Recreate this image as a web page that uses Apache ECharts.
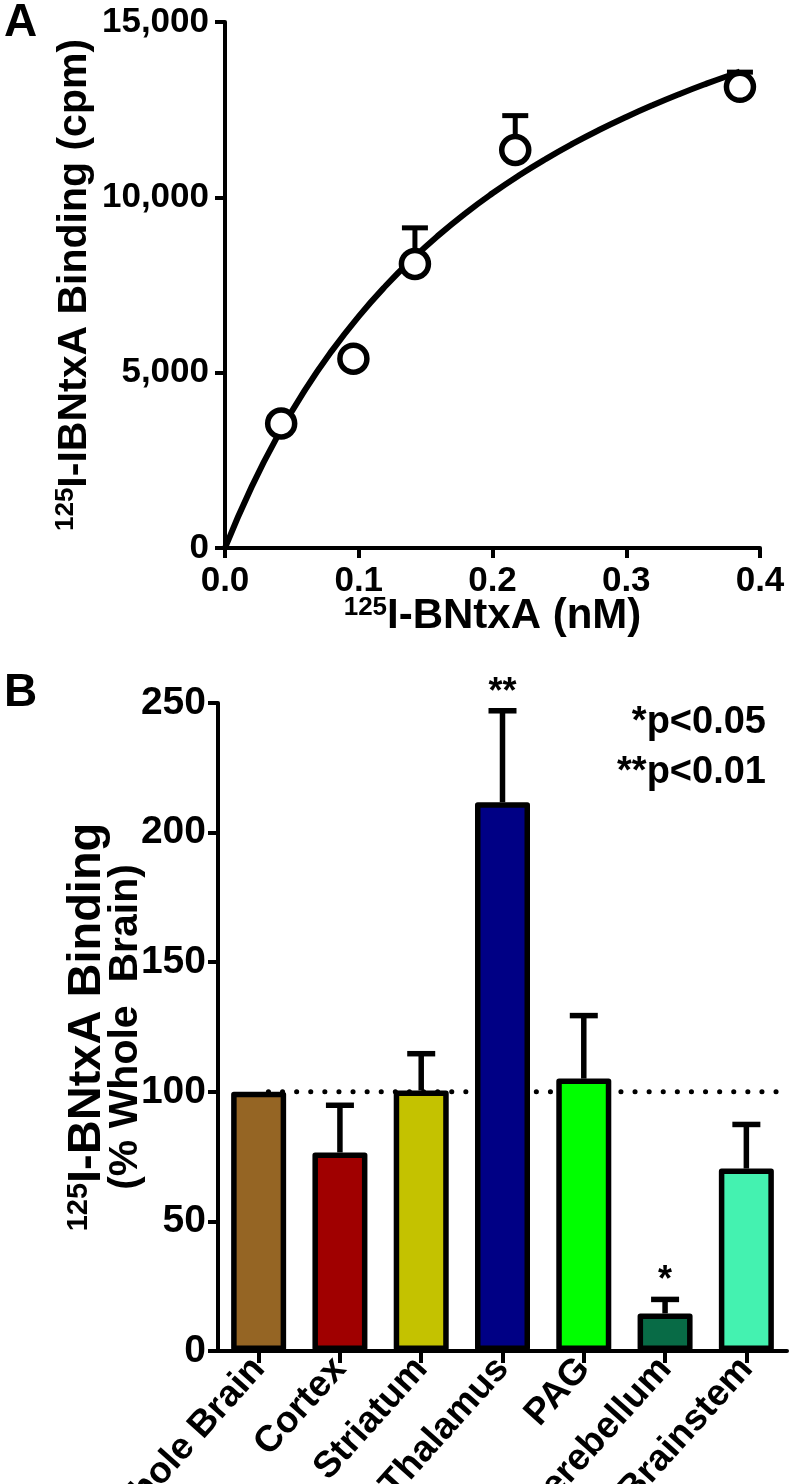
<!DOCTYPE html>
<html><head><meta charset="utf-8">
<script src="https://cdn.jsdelivr.net/npm/echarts@6/dist/echarts.min.js"></script>
<style>html,body{margin:0;padding:0;background:#fff}#c{width:797px;height:1484px}</style>
</head><body><div id="c"></div>
<script>
// ---- Panel A data ----
const concA = [0.042, 0.096, 0.142, 0.217, 0.385];
const bindA = [3550, 5400, 8100, 11350, 13150];
const errTopA = [3550, 5400, 9130, 12330, 13570];
const fitX = [0, 0.02, 0.04, 0.06, 0.08, 0.10, 0.12, 0.14, 0.16, 0.18, 0.20, 0.22, 0.24, 0.26, 0.28, 0.30, 0.32, 0.34, 0.36, 0.38, 0.385];
const fitY = [0, 1750, 3237, 4517, 5629, 6606, 7470, 8239, 8929, 9552, 10115, 10629, 11098, 11529, 11926, 12292, 12632, 12948, 13242, 13517, 13583];
const xTicksA = [0, 0.1, 0.2, 0.3, 0.4];
const yTicksA = [0, 5000, 10000, 15000];
// ---- Panel B data ----
const regions = ['Whole Brain', 'Cortex', 'Striatum', 'Thalamus', 'PAG', 'Cerebellum', 'Brainstem'];
const pctB = [100, 76.6, 100.5, 211.7, 105.1, 14.5, 70.4];
const errTopB = [100, 94.8, 114.7, 247, 129.4, 19.9, 87.4];
const sigB = ['', '', '', '**', '', '*', ''];
const colorsB = ['#956524', '#a00000', '#c4c200', '#000085', '#00ff00', '#086b46', '#44f2b0'];
const yTicksB = [0, 50, 100, 150, 200, 250];
const refX = [0.62, 7];
const refY = [100, 100];

const FF = '"Liberation Sans", Arial, Helvetica, sans-serif';
const chart = echarts.init(document.getElementById('c'), null, {renderer: 'canvas'});

function lab(size, extra) {
  return Object.assign({color: '#000', fontFamily: FF, fontWeight: 'bold', fontSize: size}, extra || {});
}
function axisBase() {
  return {
    axisLine: {show: true, onZero: false, lineStyle: {color: '#000', width: 4}},
    axisTick: {show: true, length: 10, lineStyle: {color: '#000', width: 4}},
    splitLine: {show: false},
    nameMoveOverlap: false
  };
}

const option = {
  backgroundColor: '#fff',
  animation: false,
  grid: [
    {left: 225, top: 22, width: 535, height: 526, outerBoundsMode: 'none', containLabel: false},
    {left: 218, top: 703, width: 569, height: 648, outerBoundsMode: 'none', containLabel: false}
  ],
  xAxis: [
    Object.assign(axisBase(), {
      gridIndex: 0, type: 'value', min: 0, max: 0.4, interval: 0.1,
      axisLabel: lab(35, {margin: 16, formatter: v => v.toFixed(1)}),
      name: '{sup|125}{m|I-BNtxA (nM)}', nameLocation: 'middle', nameGap: 47,
      nameTextStyle: {rich: {
        sup: lab(26, {verticalAlign: 'top', lineHeight: 42}),
        m: lab(42, {lineHeight: 42})
      }}
    }),
    Object.assign(axisBase(), {
      gridIndex: 1, type: 'category', data: regions, boundaryGap: true,
      axisTick: {show: true, length: 12, alignWithLabel: true, interval: 0, lineStyle: {color: '#000', width: 4}},
      axisLabel: lab(37, {rotate: 48, margin: 12, interval: 0})
    }),
    {gridIndex: 1, type: 'value', min: 0, max: 7, show: false}
  ],
  yAxis: [
    Object.assign(axisBase(), {
      gridIndex: 0, type: 'value', min: 0, max: 15000, interval: 5000,
      axisLabel: lab(35, {margin: 16, formatter: v => v.toLocaleString('en-US')}),
      name: '{sup|125}{m|I-IBNtxA Binding (cpm)}', nameLocation: 'middle', nameGap: 128, nameRotate: 90,
      nameTextStyle: {rich: {
        sup: lab(26, {verticalAlign: 'top', lineHeight: 44}),
        m: lab(41, {lineHeight: 44})
      }}
    }),
    Object.assign(axisBase(), {
      gridIndex: 1, type: 'value', min: 0, max: 250, interval: 50,
      axisLabel: lab(39, {margin: 12}),
      name: '{sup|125}{m|I-BNtxA Binding}\n{s|(% Whole  Brain)}', nameLocation: 'middle', nameGap: 76, nameRotate: 90,
      nameTextStyle: {rich: {
        sup: lab(29, {verticalAlign: 'top', lineHeight: 46}),
        m: lab(47, {lineHeight: 46}),
        s: lab(41, {lineHeight: 32})
      }}
    })
  ],
  graphic: [
    {type: 'text', left: 4, top: 0, style: {text: 'A', fontFamily: FF, fontWeight: 'bold', fontSize: 46, fill: '#000'}},
    {type: 'text', left: 4, top: 670, style: {text: 'B', fontFamily: FF, fontWeight: 'bold', fontSize: 46, fill: '#000'}},
    {type: 'text', right: 31, top: 704, style: {text: '*p<0.05', fontFamily: FF, fontWeight: 'bold', fontSize: 38, fill: '#000'}},
    {type: 'text', right: 31, top: 754, style: {text: '**p<0.01', fontFamily: FF, fontWeight: 'bold', fontSize: 38, fill: '#000'}}
  ],
  series: [
    {
      type: 'line', xAxisIndex: 0, yAxisIndex: 0, smooth: true, symbol: 'none', z: 2, silent: true,
      lineStyle: {color: '#000', width: 6},
      data: fitX.map((x, i) => [x, fitY[i]])
    },
    {
      type: 'custom', xAxisIndex: 0, yAxisIndex: 0, z: 3, silent: true,
      data: concA.map((x, i) => [x, bindA[i], errTopA[i]]),
      renderItem: function (params, api) {
        if (api.value(2) <= api.value(1)) return null;
        const p0 = api.coord([api.value(0), api.value(1)]);
        const p1 = api.coord([api.value(0), api.value(2)]);
        return {type: 'group', children: [
          {type: 'line', shape: {x1: p0[0], y1: p0[1], x2: p1[0], y2: p1[1]}, style: {stroke: '#000', lineWidth: 5}},
          {type: 'line', shape: {x1: p1[0] - 13, y1: p1[1], x2: p1[0] + 13, y2: p1[1]}, style: {stroke: '#000', lineWidth: 5}}
        ]};
      }
    },
    {
      type: 'scatter', xAxisIndex: 0, yAxisIndex: 0, z: 4, silent: true,
      symbol: 'circle', symbolSize: 27,
      itemStyle: {color: '#fff', borderColor: '#000', borderWidth: 5.5, opacity: 1},
      data: concA.map((x, i) => [x, bindA[i]])
    },
    {
      type: 'line', xAxisIndex: 2, yAxisIndex: 1, symbol: 'none', z: 1, silent: true,
      lineStyle: {color: '#000', width: 5, type: [0.1, 14], cap: 'round'},
      data: refX.map((x, i) => [x, refY[i]])
    },
    {
      type: 'custom', xAxisIndex: 1, yAxisIndex: 1, z: 2, silent: true,
      data: regions.map((r, i) => [i, pctB[i], errTopB[i]]),
      renderItem: function (params, api) {
        const i = params.dataIndex;
        const p0 = api.coord([api.value(0), api.value(1)]);
        const p1 = api.coord([api.value(0), api.value(2)]);
        const ch = [];
        if (api.value(2) > api.value(1)) {
          ch.push({type: 'line', shape: {x1: p0[0], y1: p0[1], x2: p1[0], y2: p1[1]}, style: {stroke: '#000', lineWidth: 5.5}});
          ch.push({type: 'line', shape: {x1: p1[0] - 14, y1: p1[1], x2: p1[0] + 14, y2: p1[1]}, style: {stroke: '#000', lineWidth: 5.5}});
        }
        if (sigB[i]) {
          ch.push({type: 'text', style: {text: sigB[i], x: p1[0], y: p1[1], align: 'center', verticalAlign: 'bottom',
            fontFamily: FF, fontWeight: 'bold', fontSize: 36, fill: '#000'}});
        }
        return {type: 'group', children: ch};
      }
    },
    {
      type: 'bar', xAxisIndex: 1, yAxisIndex: 1, z: 3, barWidth: 55, silent: true,
      data: pctB.map((v, i) => ({value: v, itemStyle: {color: colorsB[i]}})),
      itemStyle: {borderColor: '#000', borderWidth: 5.5, borderJoin: 'round'}
    }
  ]
};
chart.setOption(option);
</script>
</body></html>
